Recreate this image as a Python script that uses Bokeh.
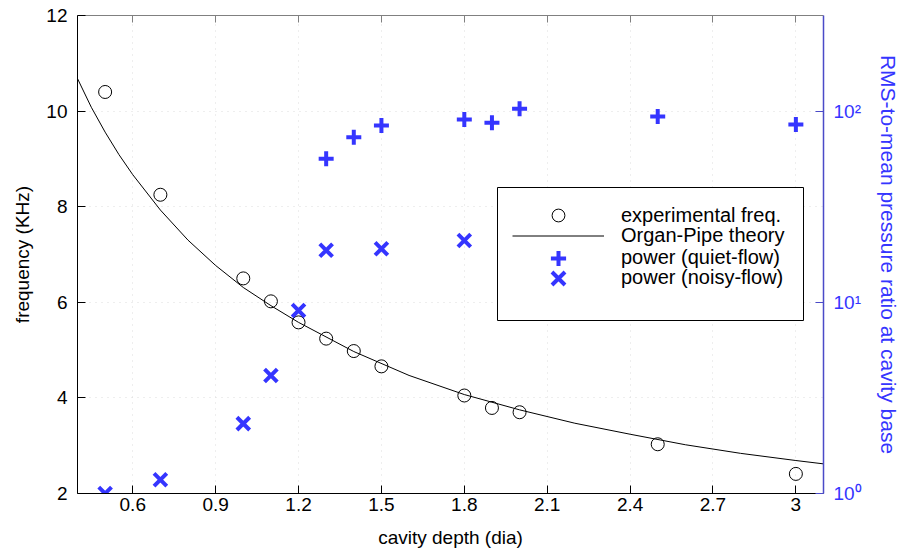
from bokeh.plotting import figure
from bokeh.models import (Range1d, LogScale, LogAxis, LinearAxis, FixedTicker,
                          Legend, LegendItem, BoxAnnotation)
from bokeh.embed import file_html
from bokeh.resources import INLINE

# ---------------- data ----------------
depth_exp = [0.5, 0.7, 1.0, 1.1, 1.2, 1.3, 1.4, 1.5, 1.8, 1.9, 2.0, 2.5, 3.0]
freq_exp = [10.40, 8.25, 6.50, 6.02, 5.58, 5.24, 4.98, 4.66, 4.05, 3.79, 3.70, 3.03, 2.41]

depth_theory = [0.40, 0.45, 0.50, 0.55, 0.60, 0.70, 0.80, 0.90, 1.00, 1.10, 1.20,
                1.40, 1.60, 1.80, 2.00, 2.20, 2.40, 2.60, 2.80, 3.00, 3.10]
freq_theory = [10.68, 10.08, 9.56, 9.09, 8.67, 7.93, 7.30, 6.77, 6.31, 5.93, 5.58,
               4.97, 4.47, 4.07, 3.75, 3.47, 3.24, 3.02, 2.84, 2.69, 2.62]

depth_quiet = [1.3, 1.4, 1.5, 1.8, 1.9, 2.0, 2.5, 3.0]
power_quiet = [56.3, 73.0, 84.1, 90.4, 86.9, 102.8, 93.7, 85.1]

depth_noisy = [0.5, 0.7, 1.0, 1.1, 1.2, 1.3, 1.5, 1.8]
power_noisy = [1.0, 1.18, 2.32, 4.14, 9.06, 18.7, 19.05, 21.05]

x_ticks = [0.6, 0.9, 1.2, 1.5, 1.8, 2.1, 2.4, 2.7, 3.0]
x_tick_labels = ["0.6", "0.9", "1.2", "1.5", "1.8", "2.1", "2.4", "2.7", "3"]
y_ticks = [2, 4, 6, 8, 10, 12]
rms_ticks = [1, 10, 100]
rms_tick_labels = ["10\u2070", "10\u00b9", "10\u00b2"]

labels = ["experimental freq.", "Organ-Pipe theory", "power (quiet-flow)", "power (noisy-flow)"]

# ---------------- styling ----------------
FONT = "Liberation Sans"
BLUE = "#3535FF"
AXBLUE = "#4A4AC8"
GRID = "#dcdcdc"

p = figure(frame_width=746, frame_height=478,
           x_range=Range1d(0.4, 3.1), y_range=Range1d(2, 12),
           output_backend="svg", toolbar_location=None,
           min_border_left=77, min_border_top=15, min_border_right=40, min_border_bottom=20,
           background_fill_color="white", border_fill_color="white")
p.outline_line_color = None
p.extra_y_ranges = {"rms": Range1d(1, 10 ** 2.5)}
p.extra_y_scales = {"rms": LogScale()}

xb = p.below[0]
yl = p.left[0]
xb.ticker = FixedTicker(ticks=x_ticks)
xb.major_label_overrides = dict(zip(x_ticks, x_tick_labels))
yl.ticker = FixedTicker(ticks=y_ticks)

for ax in (xb, yl):
    ax.major_tick_in = 8
    ax.major_tick_out = 0
    ax.minor_tick_line_color = None
    ax.axis_line_color = "black"
    ax.major_tick_line_color = "black"
    ax.major_label_text_font = FONT
    ax.major_label_text_font_size = "19px"
    ax.major_label_text_color = "black"
    ax.axis_label_text_font = FONT
    ax.axis_label_text_font_size = "19px"
    ax.axis_label_text_font_style = "normal"
    ax.axis_label_text_color = "black"

xb.axis_label = "cavity depth (dia)"
xb.major_label_standoff = 4
xb.axis_label_standoff = 13
yl.axis_label = "frequency (KHz)"
yl.major_label_standoff = 10
yl.axis_label_standoff = 10

top = LinearAxis(ticker=FixedTicker(ticks=x_ticks), major_tick_in=7, major_tick_out=0,
                 minor_tick_line_color=None, axis_line_color="#808080",
                 major_tick_line_color="#808080", major_label_text_font_size="1px",
                 major_label_text_color=None, major_label_standoff=0)
p.add_layout(top, "above")

right = LogAxis(y_range_name="rms", ticker=FixedTicker(ticks=rms_ticks),
                major_label_overrides=dict(zip(rms_ticks, rms_tick_labels)),
                major_tick_in=8, major_tick_out=0, minor_tick_line_color=None,
                axis_line_color=AXBLUE, axis_line_width=1.5, major_tick_line_color=AXBLUE,
                major_label_text_font=FONT, major_label_text_font_size="19px",
                major_label_text_color=BLUE, major_label_standoff=10,
                axis_label="RMS-to-mean pressure ratio at cavity base",
                axis_label_text_font=FONT, axis_label_text_font_size="21px",
                axis_label_text_font_style="normal", axis_label_text_color=BLUE,
                axis_label_standoff=12)
p.add_layout(right, "right")

p.xgrid.ticker = FixedTicker(ticks=x_ticks)
p.ygrid.ticker = FixedTicker(ticks=y_ticks)
for g in (p.xgrid, p.ygrid):
    g.grid_line_color = GRID
    g.grid_line_dash = "1 5"
    g.grid_line_width = 1

# ---------------- glyphs ----------------
theory = p.line(depth_theory, freq_theory, line_color="black", line_width=1)
circ = p.scatter(depth_exp, freq_exp, marker="circle", size=13, fill_color=None,
                 line_color="black", line_width=1)
plus = p.scatter(depth_quiet, power_quiet, marker="cross", size=15, line_width=4,
                 line_color=BLUE, y_range_name="rms")
xmk = p.scatter(depth_noisy, power_noisy, marker="x", size=18, line_width=4,
                line_color=BLUE, y_range_name="rms")

# ---------------- legend ----------------
box = BoxAnnotation(left=420, right=726, top=306, bottom=173,
                    left_units="screen", right_units="screen",
                    top_units="screen", bottom_units="screen",
                    fill_color="white", fill_alpha=1.0,
                    line_color="black", line_alpha=1.0, line_width=1)
p.add_layout(box)

rows = [(circ, 32, 278.0), (theory, 21, 256.3), (plus, 38, 235.5), (xmk, 46, 215.5)]
for (rend, h, cy), lab in zip(rows, labels):
    lg = Legend(items=[LegendItem(label=lab, renderers=[rend])],
                location=(435, cy - h / 2), padding=0, margin=0, spacing=0,
                glyph_width=92, glyph_height=h, label_height=h, label_standoff=17,
                label_text_font=FONT, label_text_font_size="20px", label_text_color="black",
                border_line_color=None, background_fill_alpha=0.0)
    p.add_layout(lg, "center")

open("out.html", "w").write(file_html(p, INLINE))
